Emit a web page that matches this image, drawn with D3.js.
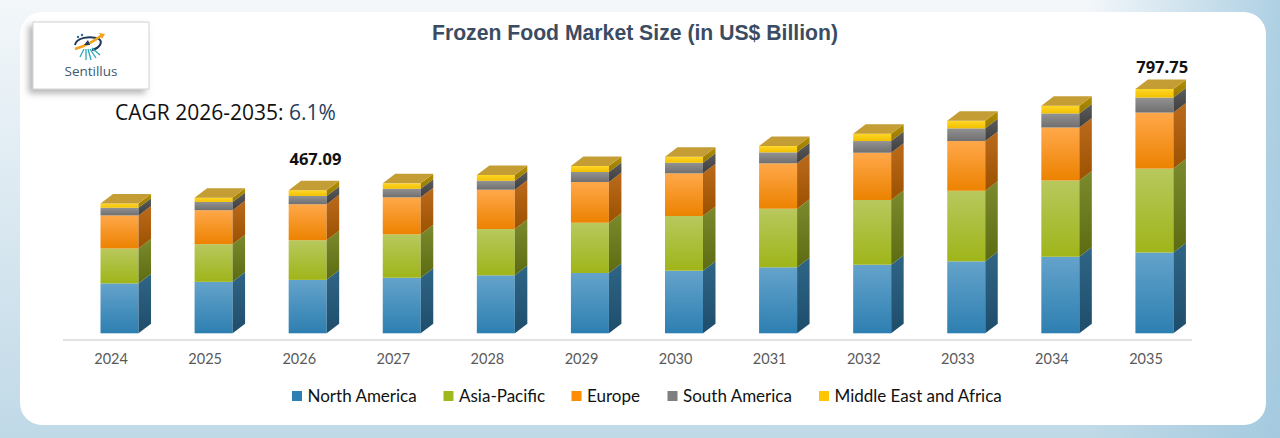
<!DOCTYPE html>
<html>
<head>
<meta charset="utf-8">
<script src="https://cdn.jsdelivr.net/npm/d3@7"></script>
<style>
  body { margin: 0; padding: 0; overflow: hidden; }
  svg { display: block; }
</style>
</head>
<body>
<svg id="chart"></svg>
<script>
// chart data (US$ billion)
var years = ["2024","2025","2026","2027","2028","2029","2030","2031","2032","2033","2034","2035"],
	regions = ["North America","Asia-Pacific","Europe","South America","Middle East and Africa"],
	northAmerica = [163, 168, 174.5, 181.5, 189.4, 196.9, 204.4, 215.5, 224, 235, 250, 263.75],
	asiaPacific = [114, 123, 129.5, 141.7, 151.2, 164.2, 178.6, 191.3, 211.2, 230.5, 249, 274],
	europe = [108, 111, 117.5, 120.8, 128.3, 132.9, 139.4, 148.2, 154.4, 162.3, 173, 183],
	southAmerica = [25, 27, 27, 28, 29.4, 32.7, 34.6, 35.9, 38.2, 41.5, 46, 49],
	middleEastAfrica = [14, 14, 18.59, 17.6, 18.6, 19.6, 19.6, 20.6, 23.8, 24.8, 25, 28],
	totalLabels = ["2026","2035"],
	cagrText = "CAGR 2026-2035: ",
	cagrValue = "6.1%";

var W = 1280, H = 438,
	depthX = 12.5, depthY = 9.5,
	barW = 38;

// face colours: [front top, front bottom, side top, side bottom]
var faceColors = [
	['#64a3cb','#2d7fb1','#2f6586','#1f4d6b'],
	['#b8c85e','#9fb519','#7a8a2c','#5d6c12'],
	['#ffa84a','#ec8200','#bb6a1c','#9c5200'],
	['#929292','#6f6f6f','#5c5c5c','#3e3e3e'],
	['#ffd728','#f2c000','#b39000','#967800']
];
var legendColors = ['#2e7fb3','#9fb81c','#ff8c00','#7f7f7f','#ffc600'];

var svg = d3.select("#chart").attr("width", W).attr("height", H);
var defs = svg.append("defs");

// page background
var bg = defs.append("linearGradient").attr("id","bg").attr("x1",0).attr("y1",0).attr("x2",0).attr("y2",1);
bg.append("stop").attr("offset","0%").attr("stop-color","#f3f7fa");
bg.append("stop").attr("offset","100%").attr("stop-color","#c0d9e7");
var bgR = defs.append("linearGradient").attr("id","bgR").attr("x1",0).attr("y1",0).attr("x2",1).attr("y2",0);
bgR.append("stop").attr("offset","85%").attr("stop-color","#9dc6dd").attr("stop-opacity",0);
bgR.append("stop").attr("offset","100%").attr("stop-color","#9dc6dd").attr("stop-opacity",0.8);

faceColors.forEach(function(c, i){
	var f = defs.append("linearGradient").attr("id","front"+i).attr("x1",0).attr("y1",0).attr("x2",0).attr("y2",1);
	f.append("stop").attr("offset","0%").attr("stop-color",c[0]);
	f.append("stop").attr("offset","100%").attr("stop-color",c[1]);
	var s = defs.append("linearGradient").attr("id","side"+i).attr("x1",0).attr("y1",0).attr("x2",0).attr("y2",1);
	s.append("stop").attr("offset","0%").attr("stop-color",c[2]);
	s.append("stop").attr("offset","100%").attr("stop-color",c[3]);
});

var shadow = defs.append("filter").attr("id","logoShadow").attr("x","-20%").attr("y","-20%").attr("width","140%").attr("height","150%");
shadow.append("feDropShadow").attr("dx",-4).attr("dy",4).attr("stdDeviation",3)
	.attr("flood-color","#7a7a7a").attr("flood-opacity",0.55);

svg.append("rect").attr("width",W).attr("height",H).attr("fill","url(#bg)");
svg.append("rect").attr("width",W).attr("height",H).attr("fill","url(#bgR)");

// white card
svg.append("rect").attr("x",20).attr("y",12).attr("width",1246).attr("height",413)
	.attr("rx",22).attr("fill","#ffffff");

// logo box
var logo = svg.append("g");
logo.append("rect").attr("x",33).attr("y",22).attr("width",116).attr("height",67)
	.attr("fill","#ffffff").attr("stroke","#d2d2d2").attr("stroke-width",1)
	.attr("filter","url(#logoShadow)");
logo.append("path").attr("d","M75,45 C76,38 90,35 99,39 C103,42 100,48 92,50")
	.attr("fill","none").attr("stroke","#1f3b5a").attr("stroke-width",2);
logo.append("path").attr("d","M75,49 C82,47 92,43 102,35")
	.attr("fill","none").attr("stroke","#f4a11c").attr("stroke-width",2.4);
logo.append("path").attr("d","M99,33 L105,34 L102,39 Z").attr("fill","#f4a11c");
logo.append("path").attr("d","M84,45 L88,40 L90,45 Z").attr("fill","#1f3b5a");
[[86,49,86,60],[88,49,91,60],[90,49,96,58],[92,48,100,55],[84,49,80,57]].forEach(function(l){
	logo.append("line").attr("x1",l[0]).attr("y1",l[1]).attr("x2",l[2]).attr("y2",l[3])
		.attr("stroke","#2aa7b7").attr("stroke-width",1.3);
});
logo.append("circle").attr("cx",78).attr("cy",37).attr("r",1.2).attr("fill","#2a6f9a");
logo.append("circle").attr("cx",82).attr("cy",35).attr("r",1.2).attr("fill","#2a6f9a");
logo.append("text").attr("x",91).attr("y",76).attr("text-anchor","middle")
	.attr("font-family","'Open Sans', sans-serif").attr("font-size",13.5)
	.attr("fill","#3d5871").text("Sentillus");

// title
svg.append("text").attr("x",635).attr("y",40).attr("text-anchor","middle")
	.attr("font-family","'Liberation Sans', Arial, sans-serif").attr("font-weight","bold")
	.attr("font-size",21.2).attr("fill","#3b4c62")
	.text("Frozen Food Market Size (in US$ Billion)");

// CAGR note
var cagr = svg.append("text").attr("x",115).attr("y",120)
	.attr("font-family","'Open Sans', sans-serif").attr("font-size",21);
cagr.append("tspan").attr("fill","#111111").text(cagrText);
cagr.append("tspan").attr("fill","#1f3f60").text(cagrValue);

// scales
var x = d3.scaleBand().domain(years).range([63, 1192]).padding(0);
var y = d3.scaleLinear().domain([0, 797.75]).range([333.3, 89]);

var table = years.map(function(yr, i){
	return {year: yr, "North America": northAmerica[i], "Asia-Pacific": asiaPacific[i],
		"Europe": europe[i], "South America": southAmerica[i], "Middle East and Africa": middleEastAfrica[i]};
});
var series = d3.stack().keys(regions)(table);

// axis
svg.append("line").attr("x1",63).attr("x2",1192).attr("y1",340).attr("y2",340)
	.attr("stroke","#d9d9d9").attr("stroke-width",1.5);
var axis = svg.append("g").attr("transform","translate(0,340)")
	.call(d3.axisBottom(x).tickSize(0).tickPadding(14));
axis.select(".domain").remove();
axis.selectAll("text").attr("font-family","Lato, sans-serif").attr("font-size",14.5)
	.attr("fill","#595959").attr("dx",1);

// 3d stacked bars
function barLeft(d){ return x(d.data.year) + 37.5; }

var layers = svg.selectAll("g.layer").data(series).enter().append("g").attr("class","layer");

layers.each(function(s, si){
	var g = d3.select(this);
	g.selectAll("rect.front").data(s).enter().append("rect")
		.attr("class","front")
		.attr("x", barLeft)
		.attr("y", function(d){ return y(d[1]); })
		.attr("width", barW)
		.attr("height", function(d){ return y(d[0]) - y(d[1]); })
		.attr("fill","url(#front"+si+")");
	g.selectAll("path.side").data(s).enter().append("path")
		.attr("class","side")
		.attr("d", function(d){
			var x1 = barLeft(d) + barW, t = y(d[1]), b = y(d[0]);
			return "M"+x1+","+t+"L"+(x1+depthX)+","+(t-depthY)+"L"+(x1+depthX)+","+(b-depthY)+"L"+x1+","+b+"Z";
		})
		.attr("fill","url(#side"+si+")");
});

// top faces
var topSeries = series[series.length-1];
svg.selectAll("path.top").data(topSeries).enter().append("path")
	.attr("d", function(d){
		var x0 = barLeft(d), t = y(d[1]);
		return "M"+x0+","+t+"L"+(x0+depthX)+","+(t-depthY)+"L"+(x0+barW+depthX)+","+(t-depthY)+"L"+(x0+barW)+","+t+"Z";
	})
	.attr("fill","#c49d35");

// total labels
var labelLift = {"2026": 25, "2035": 16.5};
svg.selectAll("text.total").data(topSeries.filter(function(d){ return totalLabels.indexOf(d.data.year) >= 0; }))
	.enter().append("text")
	.attr("x", function(d){ return barLeft(d) + (barW + depthX)/2 + 1.5; })
	.attr("y", function(d){ return y(d[1]) - labelLift[d.data.year]; })
	.attr("text-anchor","middle")
	.attr("font-family","'Open Sans', sans-serif").attr("font-weight","bold")
	.attr("font-size",16.5).attr("fill","#111111")
	.text(function(d){ return d3.format(".2f")(d[1]); });

// legend
var legendX = [292, 443.5, 571.5, 667.5, 819];
var legend = svg.selectAll("g.legend").data(regions).enter().append("g")
	.attr("transform", function(d, i){ return "translate(" + legendX[i] + ",391)"; });
legend.append("rect").attr("width",10).attr("height",10)
	.attr("fill", function(d, i){ return legendColors[i]; });
legend.append("text").attr("x",15.5).attr("y",10.5)
	.attr("font-family","Lato, sans-serif").attr("font-size",17).attr("fill","#111111")
	.text(function(d){ return d; });
</script>
</body>
</html>
